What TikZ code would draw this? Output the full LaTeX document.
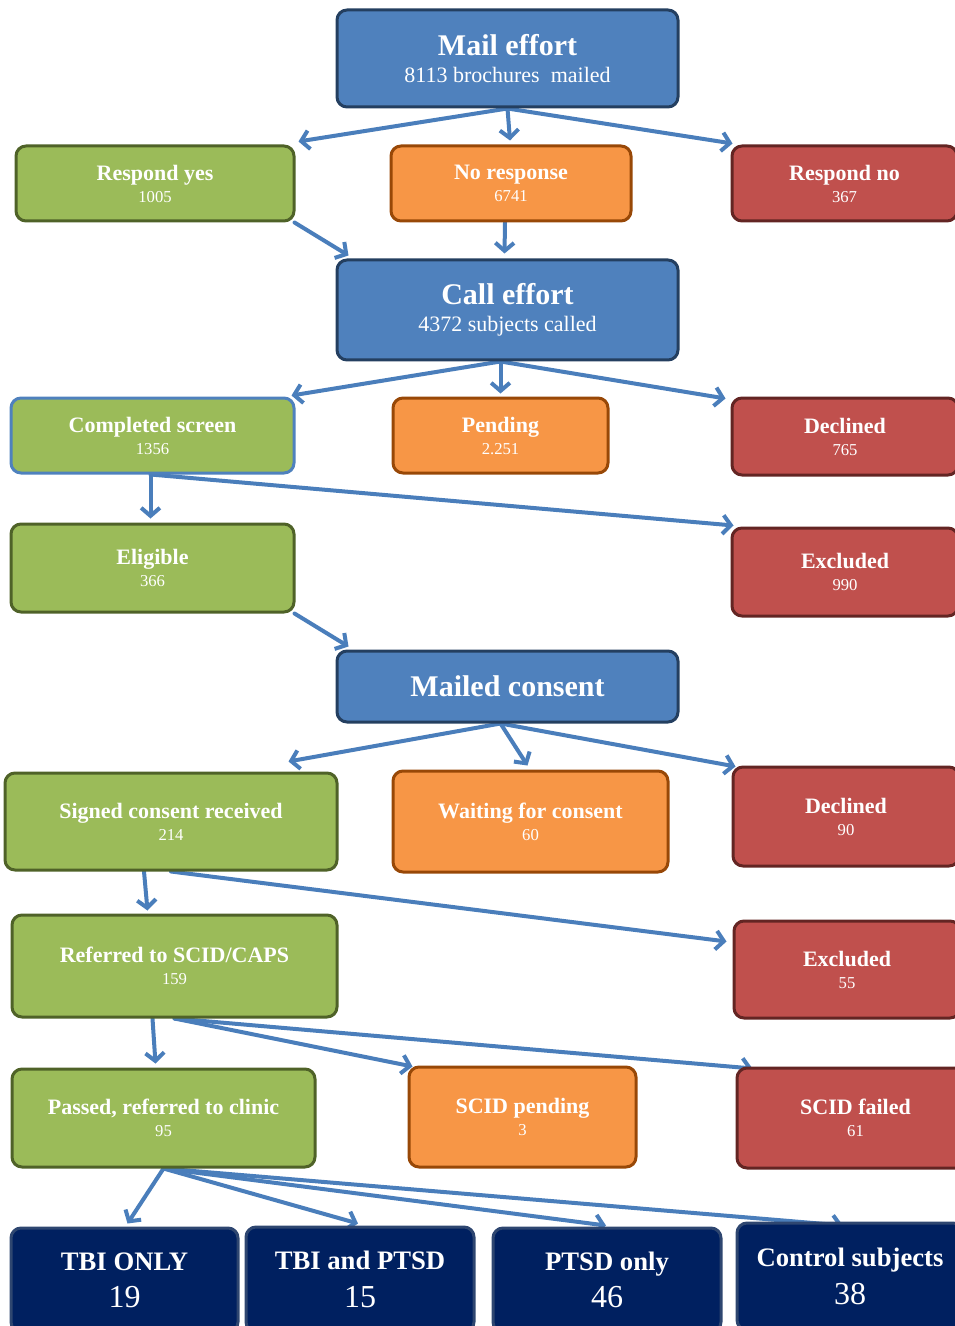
\documentclass[tikz,border=0pt]{standalone}
\usepackage{fontspec}
\setmainfont{Liberation Serif}
\usetikzlibrary{arrows.meta,calc}
\definecolor{bfill}{HTML}{4F81BD}
\definecolor{bline}{HTML}{243F60}
\definecolor{gfill}{HTML}{9BBB59}
\definecolor{gline}{HTML}{4F6228}
\definecolor{ofill}{HTML}{F79646}
\definecolor{oline}{HTML}{984807}
\definecolor{rfill}{HTML}{C0504D}
\definecolor{rline}{HTML}{632523}
\definecolor{nfill}{HTML}{002060}
\definecolor{nline}{HTML}{2E4670}
\definecolor{arr}{HTML}{4A7EBB}
\pgfdeclarelayer{bg}\pgfsetlayers{bg,main}
\newcommand\bx[7]{\node[#6, minimum width={(#4-#2)*0.75pt}, minimum height={(#5-#3)*0.75pt}] (#1) at ({(#2+#4)/2},{(#3+#5)/2}) {#7};}
\newcommand\st[1]{{\fontsize{16.5}{16.5}\selectfont\bfseries #1}}
\newcommand\sn[1]{{\fontsize{12.5}{16.5}\selectfont #1}}
\newcommand\bt[1]{{\fontsize{22.5}{20}\selectfont\bfseries #1}}
\newcommand\bs[1]{{\fontsize{16.5}{20}\selectfont #1}}
\newcommand\nt[1]{{\fontsize{20}{28}\selectfont\bfseries #1}}
\newcommand\nn[1]{{\fontsize{24}{28}\selectfont #1}}
\tikzset{
  box/.style={rounded corners=7.5pt, line width=2.25pt, text=white, align=center, inner sep=1pt},
  bbox/.style={box, fill=bfill, draw=bline, font=\fontsize{22.5}{20}\selectfont},
  gbox/.style={box, fill=gfill, draw=gline, font=\fontsize{16.5}{16.5}\selectfont},
  obox/.style={box, fill=ofill, draw=oline, font=\fontsize{16.5}{16.5}\selectfont},
  rbox/.style={box, fill=rfill, draw=rline, font=\fontsize{16.5}{16.5}\selectfont},
  nbox/.style={box, fill=nfill, draw=nline, font=\fontsize{20}{28}\selectfont},
  conn/.style={draw=arr, line width=3pt, line cap=round, -{Straight Barb[length=6pt,width=14pt,line width=3pt]}}
}
\begin{document}
\begin{tikzpicture}[x=0.75pt,y=-0.75pt]
\useasboundingbox (0,0) rectangle (955,1326);
\clip (0,0) rectangle (955,1326);
\bx{mail}{337}{10}{678}{107}{bbox}{\bt{Mail effort}\\\bs{8113 brochures\ \ mailed}}
\bx{respyes}{16}{146}{294}{221}{gbox}{\st{Respond yes}\\\sn{1005}}
\bx{noresp}{391}{146}{631}{221}{obox}{\st{No response}\\\sn{6741}}
\bx{respno}{732}{146}{957}{221}{rbox}{\st{Respond no}\\\sn{367}}
\bx{call}{337}{260}{678}{360}{bbox}{\bt{Call effort}\\\bs{4372 subjects called}}
\bx{compl}{11}{398}{294}{473}{gbox,draw=bfill}{\st{Completed screen}\\\sn{1356}}
\bx{pend}{393}{398}{608}{473}{obox}{\st{Pending}\\\sn{2.251}}
\bx{decl1}{732}{398}{958}{475}{rbox}{\st{Declined}\\\sn{765}}
\bx{elig}{11}{524}{294}{612}{gbox}{\st{Eligible}\\\sn{366}}
\bx{excl1}{732}{528}{958}{616}{rbox}{\st{Excluded}\\\sn{990}}
\bx{mcons}{337}{651}{678}{722}{bbox}{\bt{Mailed consent}}
\bx{sign}{5}{773}{337}{870}{gbox}{\st{Signed consent received}\\\sn{214}}
\bx{wait}{393}{771}{668}{872}{obox}{\st{Waiting for consent}\\\sn{60}}
\bx{decl2}{733}{767}{959}{866}{rbox}{\st{Declined}\\\sn{90}}
\bx{refer}{12}{915}{337}{1017}{gbox}{\st{Referred to SCID/CAPS}\\\sn{159}}
\bx{excl2}{734}{921}{960}{1018}{rbox}{\st{Excluded}\\\sn{55}}
\bx{passed}{12}{1069}{315}{1167}{gbox}{\st{Passed, referred to clinic}\\\sn{95}}
\bx{scidp}{409}{1067}{636}{1167}{obox}{\st{SCID pending}\\\sn{3}}
\bx{scidf}{737}{1068}{974}{1168}{rbox}{\st{SCID failed}\\\sn{61}}
\bx{tbi}{11}{1228}{238}{1332}{nbox}{\nt{TBI ONLY}\\\nn{19}}
\bx{tbip}{246}{1227}{474}{1332}{nbox}{\nt{TBI and PTSD}\\\nn{15}}
\bx{ptsd}{493}{1228}{721}{1332}{nbox}{\nt{PTSD only}\\\nn{46}}
\bx{ctrl}{737}{1223}{963}{1330}{nbox}{\nt{Control subjects}\\\nn{38}}
\begin{pgfonlayer}{bg}
\draw[conn] (mail.south) -- ($(respyes.north east)+(3,-3)$);
\draw[conn] (mail.south) -- ($(noresp.north)+(-1,-4)$);
\draw[conn] (mail.south) -- ($(respno.north west)+(2,-1)$);
\draw[conn] ($(respyes.south east)+(-1,0)$) -- ($(call.north west)+(13,-3)$);
\draw[conn] ($(noresp.south)+(-6,0)$) -- ($(call.north)+(-3,-5)$);
\draw[conn] ($(call.south)+(-7,0)$) -- ($(compl.north east)+(-4,-1)$);
\draw[conn] ($(call.south)+(-7,0)$) -- ($(pend.north)+(0,-3)$);
\draw[conn] ($(call.south)+(-7,0)$) -- ($(decl1.north west)+(-5,2)$);
\draw[conn] ($(compl.south)+(-2,0)$) -- ($(elig.north)+(-2,-4)$);
\draw[conn] ($(compl.south)+(-2,0)$) -- ($(excl1.north west)+(3,-1)$);
\draw[conn] ($(elig.south east)+(-1,0)$) -- ($(mcons.north west)+(13,-3)$);
\draw[conn] ($(mcons.south)+(-7,0)$) -- ($(sign.north east)+(-50,-10)$);
\draw[conn] ($(mcons.south)+(-7,0)$) -- ($(wait.north)+(-3,-4)$);
\draw[conn] ($(mcons.south)+(-7,0)$) -- ($(decl2.north west)+(4,1)$);
\draw[conn] ($(sign.south)+(-27,0)$) -- ($(refer.north)+(-27,-3)$);
\draw[conn] (sign.south) -- ($(excl2.north west)+(-6,22)$);
\draw[conn] ($(refer.south)+(-22,0)$) -- ($(passed.north)+(-8,-4)$);
\draw[conn] (refer.south) -- ($(scidp.north west)+(5,1)$);
\draw[conn] (refer.south) -- ($(scidf.north west)+(17,2)$);
\draw[conn] (passed.south) -- ($(tbi.north)+(3,-3)$);
\draw[conn] (passed.south) -- ($(tbip.north)+(-2,-2)$);
\draw[conn] (passed.south) -- ($(ptsd.north)+(-1,-1)$);
\draw[conn] (passed.south) -- ($(ctrl.north)+(-7,4)$);
\end{pgfonlayer}
\end{tikzpicture}
\end{document}
